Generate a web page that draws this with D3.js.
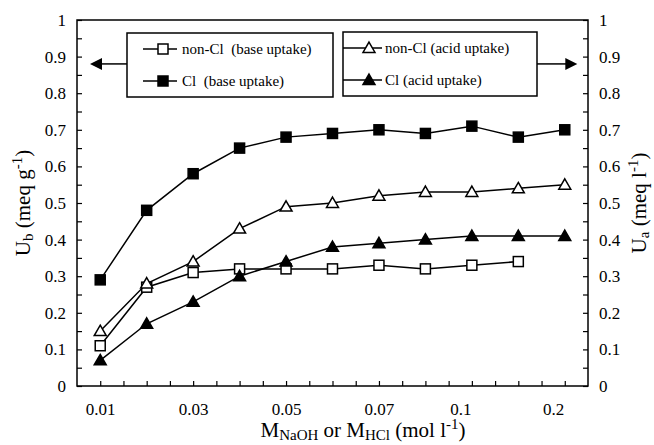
<!DOCTYPE html>
<html>
<head>
<meta charset="UTF-8">
<title>uptake</title>
<script src="https://cdn.jsdelivr.net/npm/d3@7"></script>
<style>
	body { margin: 0; background: #fff; }
</style>
</head>
<body>
<div id="chart"></div>
<script>
// 11 concentrations, plotted at equal spacing
var concIndex = d3.range(11);
var xTickPos    = [0, 2, 4, 6, 7.75, 9.75];
var xTickLabels = ["0.01", "0.03", "0.05", "0.07", "0.1", "0.2"];

var nonClBase = [0.11, 0.27, 0.31, 0.32, 0.32, 0.32, 0.33, 0.32, 0.33, 0.34];
var clBase    = [0.29, 0.48, 0.58, 0.65, 0.68, 0.69, 0.70, 0.69, 0.71, 0.68, 0.70];
var nonClAcid = [0.15, 0.28, 0.34, 0.43, 0.49, 0.50, 0.52, 0.53, 0.53, 0.54, 0.55];
var clAcid    = [0.07, 0.17, 0.23, 0.30, 0.34, 0.38, 0.39, 0.40, 0.41, 0.41, 0.41];

var yTicks = d3.range(0, 1.001, 0.1);

var W = 654, H = 445;
var pLeft = 77, pRight = 588, pTop = 20, pBottom = 386;
var FONT = "'Liberation Serif'";

var svg = d3.select("#chart").append("svg")
	.attr("width", W).attr("height", H)
	.style("font-family", FONT);

var x = d3.scaleLinear().domain([-0.5, 10.5]).range([pLeft, pRight]);
var y = d3.scaleLinear().domain([0, 1]).range([pBottom, pTop]);

// frame
svg.append("rect")
	.attr("x", pLeft).attr("y", pTop)
	.attr("width", pRight - pLeft).attr("height", pBottom - pTop)
	.attr("fill", "none").attr("stroke", "#000").attr("stroke-width", 1.5);

// inner ticks
var minorY = d3.range(0, 1.001, 0.05);
svg.append("g").attr("transform", "translate(" + pLeft + ",0)")
	.call(d3.axisLeft(y).tickValues(minorY).tickSize(-5).tickFormat(""));
svg.append("g").attr("transform", "translate(" + pRight + ",0)")
	.call(d3.axisRight(y).tickValues(minorY).tickSize(-5).tickFormat(""));
svg.append("g").attr("transform", "translate(0," + pBottom + ")")
	.call(d3.axisBottom(x).tickValues(d3.range(0, 10.01, 0.5)).tickSize(-5).tickFormat(""));

// tick labels
var fmtY = function(d){ return d === 0 ? "0" : Math.abs(d - 1) < 1e-9 ? "1" : d.toFixed(1); };
svg.append("g").attr("transform", "translate(" + pLeft + ",0)")
	.call(d3.axisLeft(y).tickValues(yTicks).tickSize(0).tickPadding(11).tickFormat(fmtY));
svg.append("g").attr("transform", "translate(" + pRight + ",0)")
	.call(d3.axisRight(y).tickValues(yTicks).tickSize(0).tickPadding(11).tickFormat(fmtY));
svg.append("g").attr("transform", "translate(0," + pBottom + ")")
	.call(d3.axisBottom(x).tickValues(xTickPos).tickSize(0).tickPadding(17)
		.tickFormat(function(d,i){ return xTickLabels[i]; }));

svg.selectAll(".domain").attr("stroke", "none");
svg.selectAll("g").attr("font-family", null);
svg.selectAll(".tick line").attr("stroke", "#000").attr("stroke-width", 1.2);
svg.selectAll(".tick text").attr("fill", "#000")
	.style("font-size", "17px").style("font-family", FONT);

// series
var line = d3.line().x(function(d,i){ return x(concIndex[i]); }).y(function(d){ return y(d); });
var tri = d3.symbol().type(d3.symbolTriangle).size(62);

var series = [
	{ data: nonClBase, shape: "square",   fill: "#fff" },
	{ data: clBase,    shape: "square",   fill: "#000" },
	{ data: nonClAcid, shape: "triangle", fill: "#fff" },
	{ data: clAcid,    shape: "triangle", fill: "#000" }
];

function drawMarker(g, shape, fill) {
	if (shape === "square") {
		g.append("rect").attr("x", -5).attr("y", -5).attr("width", 10).attr("height", 10)
			.attr("fill", fill).attr("stroke", "#000").attr("stroke-width", 1.5);
	} else {
		g.append("path").attr("d", tri).attr("transform", "translate(0,1)")
			.attr("fill", fill).attr("stroke", "#000").attr("stroke-width", 1.5);
	}
}

series.forEach(function(s){
	svg.append("path").datum(s.data)
		.attr("d", line).attr("fill", "none")
		.attr("stroke", "#000").attr("stroke-width", 1.5);
	svg.selectAll(null).data(s.data).enter().append("g")
		.attr("transform", function(d,i){ return "translate(" + x(concIndex[i]) + "," + y(d) + ")"; })
		.each(function(){ drawMarker(d3.select(this), s.shape, s.fill); });
});

// legends
var legendBoxes = [
	{ x: 127, y: 33, w: 206, h: 64, items: [
		{ label: "non-Cl  (base uptake)", s: series[0] },
		{ label: "Cl  (base uptake)", s: series[1] } ], lx0: 143, lx1: 177, mx: 163, tx: 182 },
	{ x: 343, y: 32, w: 194, h: 64, items: [
		{ label: "non-Cl (acid uptake)", s: series[2] },
		{ label: "Cl (acid uptake)", s: series[3] } ], lx0: 343, lx1: 382, mx: 369, tx: 385 }
];

legendBoxes.forEach(function(b){
	svg.append("rect").attr("x", b.x).attr("y", b.y).attr("width", b.w).attr("height", b.h)
		.attr("fill", "#fff").attr("stroke", "#000").attr("stroke-width", 1.5);
	b.items.forEach(function(it, i){
		var yy = b.y + 16 + i * 32;
		svg.append("line").attr("x1", b.lx0).attr("x2", b.lx1).attr("y1", yy).attr("y2", yy)
			.attr("stroke", "#000").attr("stroke-width", 1.5);
		drawMarker(svg.append("g").attr("transform", "translate(" + b.mx + "," + yy + ")"), it.s.shape, it.s.fill);
		svg.append("text").attr("x", b.tx).attr("y", yy + 5)
			.style("font-size", "15px").style("font-family", FONT).style("white-space", "pre")
			.text(it.label);
	});
});

// arrows pointing to the axes
var arrowY = y(0.88);
function arrow(x0, x1) {
	var dir = x1 > x0 ? 1 : -1;
	svg.append("line").attr("x1", x0).attr("x2", x1 - dir * 9).attr("y1", arrowY).attr("y2", arrowY)
		.attr("stroke", "#000").attr("stroke-width", 1.5);
	svg.append("path")
		.attr("d", "M" + x1 + "," + arrowY + "L" + (x1 - dir * 12) + "," + (arrowY - 6) +
			"L" + (x1 - dir * 12) + "," + (arrowY + 6) + "Z")
		.attr("fill", "#000");
}
arrow(127, x(-0.22));
arrow(537, x(10.27));

// axis titles
function title(tx, parts) {
	parts.forEach(function(p){
		tx.append("tspan").attr("dy", p[1]).style("font-size", p[2] + "px").text(p[0]);
	});
}
var tl = svg.append("text").attr("transform", "translate(30," + y(0.5) + ") rotate(-90)")
	.attr("text-anchor", "middle").style("font-family", FONT).style("font-size", "21px");
title(tl, [["U", 0, 21], ["b", 3, 15], [" (meq g", -3, 21], ["-1", -8, 15], [")", 8, 21]]);

var tr = svg.append("text").attr("transform", "translate(646," + y(0.5) + ") rotate(-90)")
	.attr("text-anchor", "middle").style("font-family", FONT).style("font-size", "21px");
title(tr, [["U", 0, 21], ["a", 3, 15], [" (meq l", -3, 21], ["-1", -8, 15], [")", 8, 21]]);

var tb = svg.append("text").attr("x", 363).attr("y", 437)
	.attr("text-anchor", "middle").style("font-family", FONT).style("font-size", "21px");
title(tb, [["M", 0, 21], ["NaOH", 3, 15], [" or M", -3, 21], ["HCl", 3, 15],
	[" (mol l", -3, 21], ["-1", -8, 15], [")", 8, 21]]);
</script>
</body>
</html>
